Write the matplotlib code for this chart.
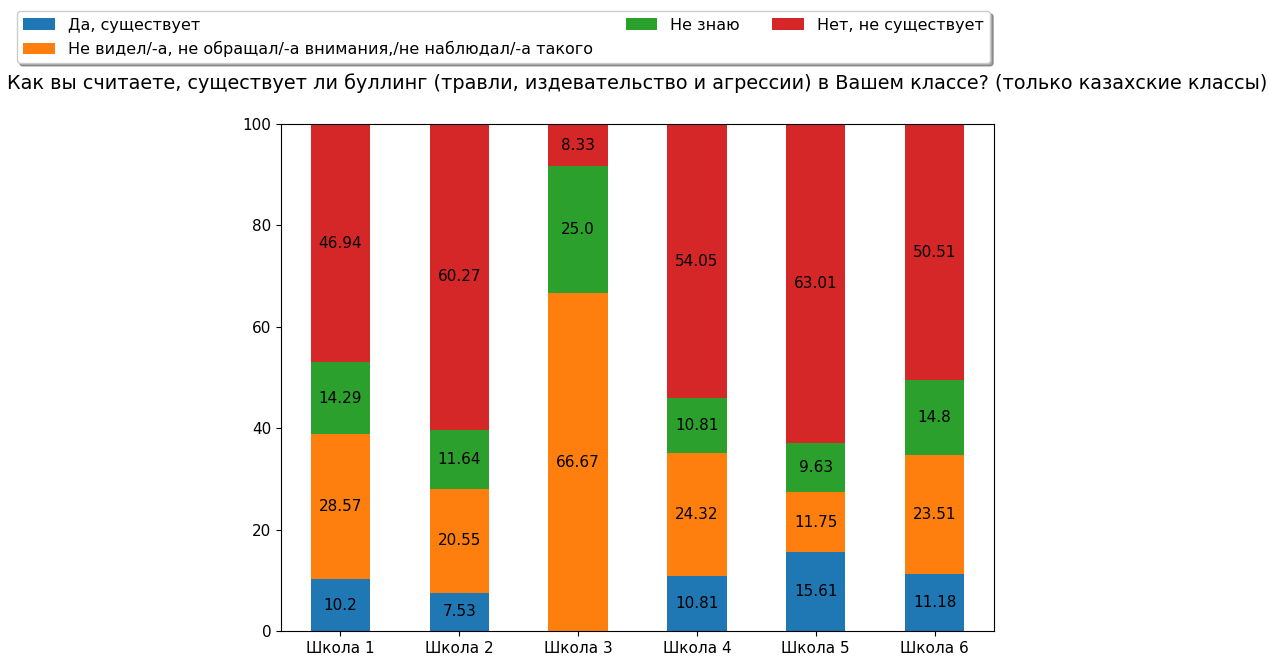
import matplotlib
matplotlib.use("Agg")
import matplotlib.pyplot as plt
import numpy as np

# данные
schools = ["Школа 1", "Школа 2", "Школа 3", "Школа 4", "Школа 5", "Школа 6"]
answers = ["Да, существует",
           "Не видел/-а, не обращал/-а внимания,/не наблюдал/-а такого",
           "Не знаю",
           "Нет, не существует"]
yes_vals = [10.2, 7.53, 0.0, 10.81, 15.61, 11.18]
not_seen_vals = [28.57, 20.55, 66.67, 24.32, 11.75, 23.51]
dont_know_vals = [14.29, 11.64, 25.0, 10.81, 9.63, 14.8]
no_vals = [46.94, 60.27, 8.33, 54.05, 63.01, 50.51]

colors = ["#1f77b4", "#ff7f0e", "#2ca02c", "#d62728"]

fig = plt.figure(figsize=(12.69, 6.57), dpi=100)
ax = fig.add_axes([0.2214, 0.0396, 0.5619, 0.7715])

x = np.arange(len(schools))
bottom = np.zeros(len(schools))
handles = []
for vals, name, col in zip([yes_vals, not_seen_vals, dont_know_vals, no_vals], answers, colors):
    bars = ax.bar(x, vals, width=0.5, bottom=bottom, color=col, label=name)
    # нулевые значения не подписываем
    labels = ["" if v == 0 else str(v) for v in vals]
    ax.bar_label(bars, labels=labels, label_type="center", fontsize=11)
    bottom += np.array(vals)
    handles.append(bars)

ax.set_xticks(x)
ax.set_xticklabels(schools, fontsize=11)
ax.tick_params(axis="y", labelsize=11)
ax.set_xlim(-0.5, len(schools) - 0.5)
ax.set_ylim(0, 100)

ax.set_title("Как вы считаете, существует ли буллинг (травли, издевательство и агрессии) в Вашем классе? (только казахские классы)",
             fontsize=13.85, pad=25)

fig.legend(handles=handles, labels=answers, loc="lower left", ncol=3, mode="expand",
           bbox_to_anchor=(0.0134, 0.904, 0.767, 0.078), bbox_transform=fig.transFigure,
           shadow=True, fontsize=11.5, borderaxespad=0)

fig.savefig("out.png", dpi=100)
